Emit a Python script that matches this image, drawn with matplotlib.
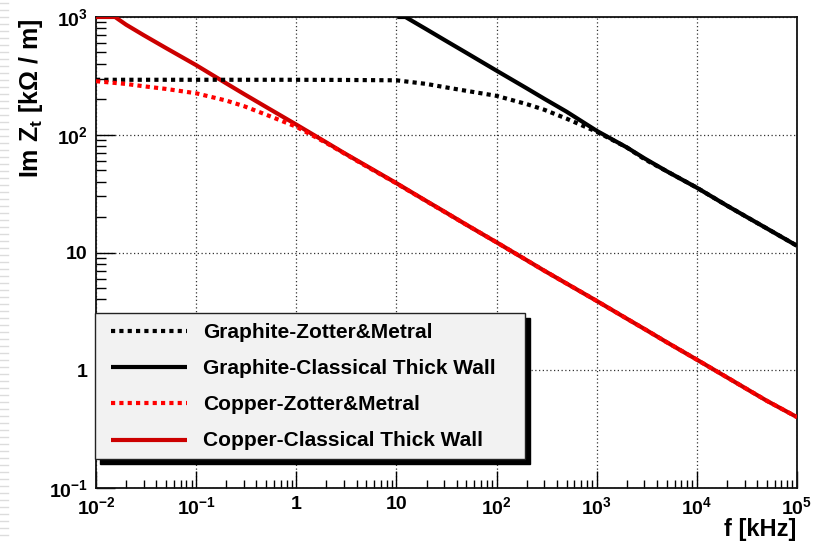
import matplotlib
matplotlib.use("Agg")
import matplotlib.pyplot as plt
from matplotlib.lines import Line2D
from matplotlib.patches import Rectangle
from matplotlib.ticker import FixedLocator, FixedFormatter, LogLocator, NullFormatter

plt.rcParams['font.family'] = ['Liberation Sans', 'DejaVu Sans']
plt.rcParams['font.weight'] = 'bold'
plt.rcParams['mathtext.fontset'] = 'custom'
plt.rcParams['mathtext.rm'] = 'Liberation Sans:bold'
plt.rcParams['mathtext.bf'] = 'Liberation Sans:bold'
plt.rcParams['mathtext.it'] = 'Liberation Sans:bold'
plt.rcParams['mathtext.default'] = 'bf'

# ---- data ----
f_graphite_zm = [0.01, 0.1, 1, 3, 10, 20, 30, 50, 100, 200, 300, 500,
                 1e3, 2e3, 3e3, 5e3, 1e4, 2e4, 3e4, 5e4, 1e5]
z_graphite_zm = [293, 293, 293, 292, 290, 270, 254, 236, 214, 182, 163, 137,
                 106, 78, 62, 49, 35.5, 25, 20.5, 16, 11.4]

f_graphite_cl = [10.2, 12.3, 20, 30, 50, 100, 200, 300, 500,
                 1e3, 2e3, 3e3, 5e3, 1e4, 2e4, 3e4, 5e4, 1e5]
z_graphite_cl = [1000, 1000, 785, 640, 496, 350, 248, 202, 157,
                 108, 78, 63, 49, 35.5, 25, 20.5, 16, 11.4]

f_copper_zm = [0.01, 0.02, 0.03, 0.05, 0.1, 0.2, 0.3, 0.5, 1, 2, 3, 5, 10, 20, 30, 50,
               100, 200, 300, 500, 1e3, 2e3, 3e3, 5e3, 1e4, 2e4, 3e4, 5e4, 1e5]
z_copper_zm = [285, 270, 258, 245, 225, 195, 175, 148, 117, 85, 69.5, 54, 38.6, 27.2, 22.2, 17.2,
               12.2, 8.6, 7.0, 5.45, 3.88, 2.74, 2.24, 1.73, 1.23, 0.87, 0.71, 0.55, 0.40]

f_copper_cl = [0.01, 0.0155, 0.02, 0.03, 0.05, 0.1, 0.2, 0.3, 0.5, 1, 2, 3, 5, 10, 20, 30, 50,
               100, 200, 300, 500, 1e3, 2e3, 3e3, 5e3, 1e4, 2e4, 3e4, 5e4, 1e5]
z_copper_cl = [1000, 1000, 860, 700, 545, 390, 273, 222, 172, 122, 86, 70, 54.5, 38.8, 27.3, 22.3, 17.2,
               12.2, 8.6, 7.0, 5.45, 3.88, 2.74, 2.24, 1.73, 1.23, 0.87, 0.71, 0.55, 0.40]

x_ticks = [1e-2, 1e-1, 1, 10, 1e2, 1e3, 1e4, 1e5]
x_tick_labels = [r'$10^{-2}$', r'$10^{-1}$', '1', '10', r'$10^{2}$', r'$10^{3}$', r'$10^{4}$', r'$10^{5}$']
y_ticks = [1e-1, 1, 10, 1e2, 1e3]
y_tick_labels = [r'$10^{-1}$', '1', '10', r'$10^{2}$', r'$10^{3}$']

legend_labels = ['Graphite-Zotter&Metral', 'Graphite-Classical Thick Wall',
                 'Copper-Zotter&Metral', 'Copper-Classical Thick Wall']

# ---- figure ----
W, H = 813, 541
fig = plt.figure(figsize=(W / 100, H / 100), dpi=100)

def fx(x):
    return x / W

def fy(y):
    return 1 - y / H

ax = fig.add_axes([fx(96), fy(488), fx(797) - fx(96), fy(17) - fy(488)])
ax.set_xscale('log')
ax.set_yscale('log')
ax.set_xlim(1e-2, 1e5)
ax.set_ylim(1e-1, 1e3)

BLACK = '#000000'
RED_D = '#ff0000'
RED_S = '#cc0000'
lw = 3.0
dot = (0, (1, 1))

ax.plot(f_graphite_cl, z_graphite_cl, color=BLACK, lw=lw, solid_capstyle='butt', zorder=3)
ax.plot(f_graphite_zm, z_graphite_zm, color=BLACK, lw=lw, linestyle=dot, dash_capstyle='butt', zorder=4)
ax.plot(f_copper_cl, z_copper_cl, color=RED_S, lw=lw, solid_capstyle='butt', zorder=3)
ax.plot(f_copper_zm, z_copper_zm, color=RED_D, lw=lw, linestyle=dot, dash_capstyle='butt', zorder=4)

# grid
ax.grid(True, which='major', linestyle=(0, (1, 2)), color='#333333', lw=0.9)

# ticks
ax.xaxis.set_major_locator(FixedLocator(x_ticks))
ax.xaxis.set_major_formatter(FixedFormatter(x_tick_labels))
ax.yaxis.set_major_locator(FixedLocator(y_ticks))
ax.yaxis.set_major_formatter(FixedFormatter(y_tick_labels))
ax.xaxis.set_minor_locator(LogLocator(base=10, subs=range(2, 10), numticks=20))
ax.yaxis.set_minor_locator(LogLocator(base=10, subs=range(2, 10), numticks=20))
ax.xaxis.set_minor_formatter(NullFormatter())
ax.yaxis.set_minor_formatter(NullFormatter())
ax.tick_params(axis='x', which='major', direction='in', length=12, width=1.0,
               labelsize=14, pad=6, top=False)
ax.tick_params(axis='x', which='minor', direction='in', length=5.5, width=1.0, top=False)
ax.tick_params(axis='y', which='major', direction='in', length=14, width=1.0,
               labelsize=14, pad=6, right=False)
ax.tick_params(axis='y', which='minor', direction='in', length=7, width=1.0, right=False)
for lab in ax.get_xticklabels() + ax.get_yticklabels():
    lab.set_fontweight('bold')

for s in ax.spines.values():
    s.set_linewidth(1.3)
    s.set_color('#111111')

# axis titles
fig.text(fx(31), fy(19), r'Im Z$_{t}$ [k$\Omega$ / m]', rotation=90, ha='center', va='top',
         fontsize=18, fontweight='bold')
fig.text(fx(796), fy(541), 'f [kHz]', ha='right', va='bottom', fontsize=17, fontweight='bold')

# legend (ROOT-style box with shadow)
bx0, by0, bx1, by1 = 95, 313, 525, 459
sh = 5
fig.add_artist(Rectangle((fx(bx0 + sh), fy(by1 + sh)), fx(bx1 - bx0), fy(by0) - fy(by1),
                         transform=fig.transFigure, facecolor='black', edgecolor='black', zorder=10))
fig.add_artist(Rectangle((fx(bx0), fy(by1)), fx(bx1 - bx0), fy(by0) - fy(by1),
                         transform=fig.transFigure, facecolor='#f2f2f2', edgecolor='#222222',
                         lw=1.0, zorder=11))
styles = [(BLACK, dot), (BLACK, '-'), (RED_D, dot), (RED_S, '-')]
rows = [331, 367, 403, 440]
for (c, ls), yy, lab in zip(styles, rows, legend_labels):
    fig.add_artist(Line2D([fx(111), fx(187)], [fy(yy), fy(yy)], transform=fig.transFigure,
                          color=c, lw=lw, linestyle=ls, dash_capstyle='butt',
                          solid_capstyle='butt', zorder=12))
    fig.text(fx(203), fy(yy + 1), lab, ha='left', va='center', fontsize=15,
             fontweight='bold', zorder=13)

# slide background stripes at the far left edge
for yy in range(3, H, 7):
    fig.add_artist(Line2D([0, fx(8)], [fy(yy), fy(yy)], transform=fig.transFigure,
                          color='#dcdcdc', lw=1.0, zorder=0))

fig.savefig('out.png', dpi=100)
